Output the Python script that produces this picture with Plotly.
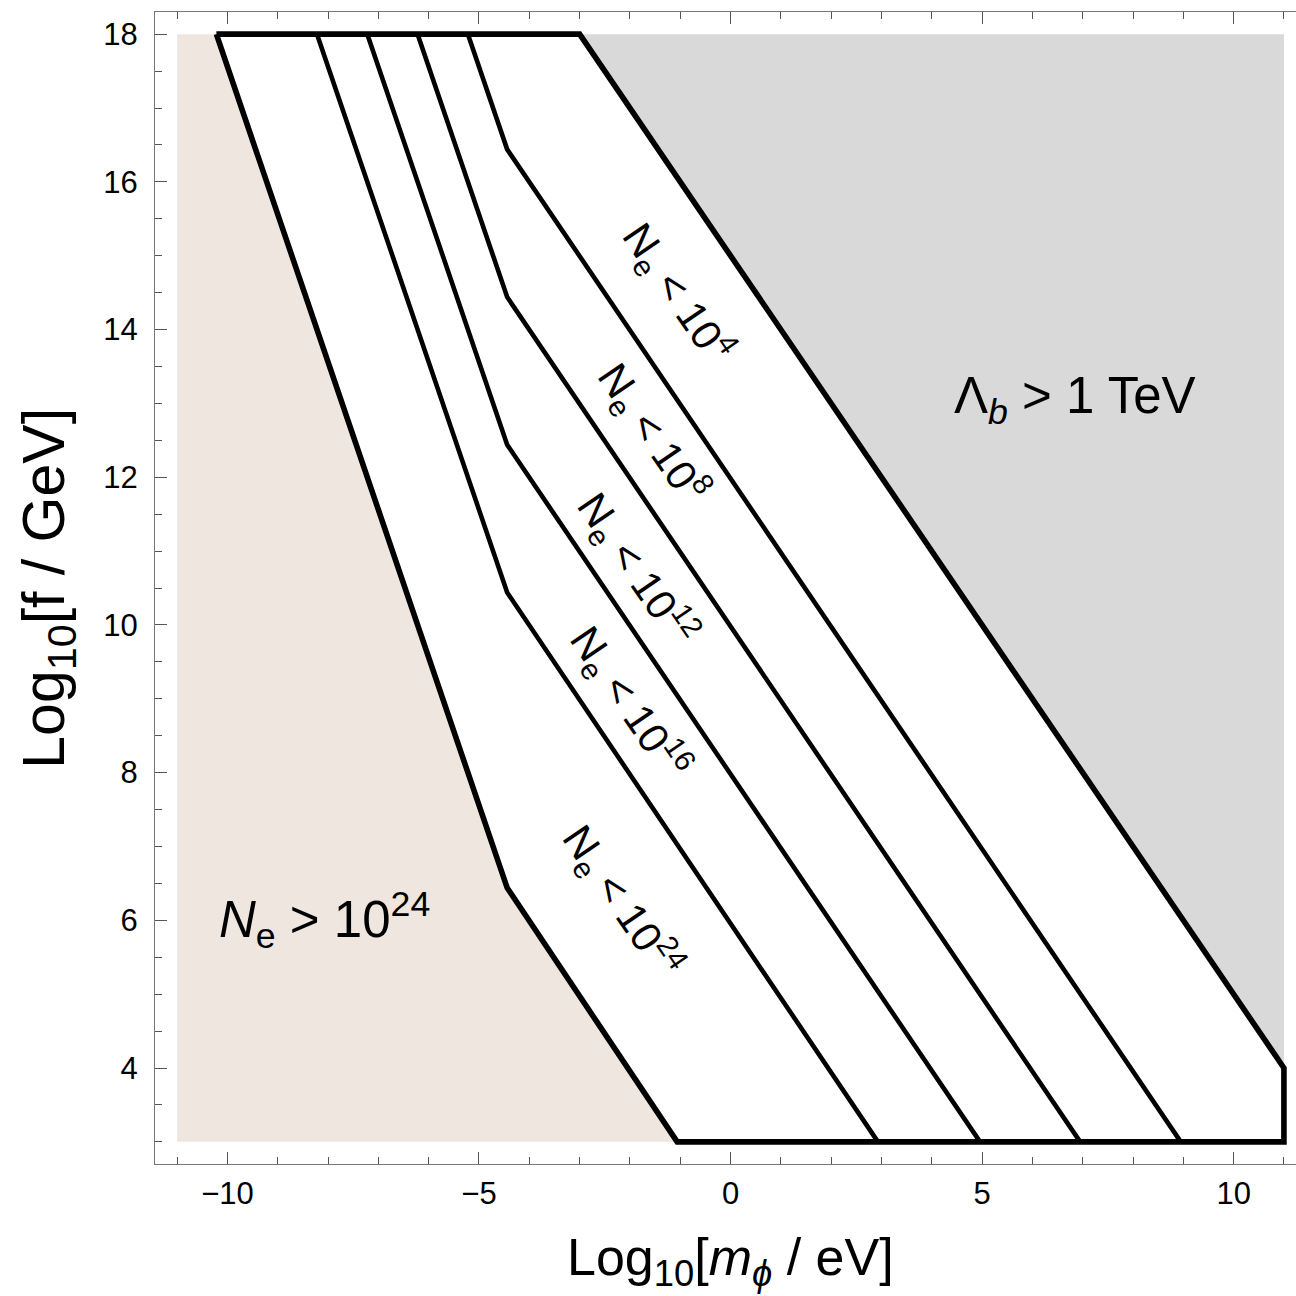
import plotly.graph_objects as go

# ---- data (x = Log10[m/eV], y = Log10[f/GeV]) ----
region_m = [-11, 11]
region_f = [3, 18]

# left boundary (N_e = 10^24)
ne24_m = [-10.22, -4.44, -1.06]
ne24_f = [18, 6.44, 3]
# right boundary (Lambda_b = 1 TeV)
lam_m = [-3, 11, 11]
lam_f = [18, 4, 3]

# inner contours
ne16_m = [-8.22, -4.44, 2.93]
ne16_f = [18, 10.44, 3]
ne12_m = [-7.22, -4.44, 4.96]
ne12_f = [18, 12.44, 3]
ne8_m = [-6.22, -4.44, 6.95]
ne8_f = [18, 14.44, 3]
ne4_m = [-5.22, -4.44, 8.95]
ne4_f = [18, 16.44, 3]

# rotated labels: text exponent, position
lab_exp = ["4", "8", "12", "16", "24"]
lab_m = [-1.05, -1.55, -1.85, -2.0, -2.15]
lab_f = [14.5, 12.6, 10.75, 8.95, 6.25]

FONT = "Liberation Sans, Arial, sans-serif"
BEIGE = "rgb(239,230,224)"
GRAY = "rgb(217,217,217)"

fig = go.Figure()

# beige excluded region (left)
fig.add_trace(go.Scatter(
    x=[region_m[0], region_m[0]] + ne24_m,
    y=[region_f[0], region_f[1]] + ne24_f,
    fill="toself", fillcolor=BEIGE, line=dict(width=0), mode="lines",
    hoverinfo="skip", showlegend=False))

# gray excluded region (right)
fig.add_trace(go.Scatter(
    x=[lam_m[0], region_m[1], lam_m[1]],
    y=[region_f[1], region_f[1], lam_f[1]],
    fill="toself", fillcolor=GRAY, line=dict(width=0), mode="lines",
    hoverinfo="skip", showlegend=False))

# inner contour lines
for mm, ff in [(ne16_m, ne16_f), (ne12_m, ne12_f), (ne8_m, ne8_f), (ne4_m, ne4_f)]:
    fig.add_trace(go.Scatter(x=mm, y=ff, mode="lines",
                             line=dict(color="black", width=4.6),
                             hoverinfo="skip", showlegend=False))

# outer boundary of allowed region
out_m = [ne24_m[0]] + lam_m + ne24_m[::-1]
out_f = [ne24_f[0]] + lam_f + ne24_f[::-1]
fig.add_trace(go.Scatter(x=out_m, y=out_f, mode="lines",
                         line=dict(color="black", width=5.6),
                         hoverinfo="skip", showlegend=False))

annotations = []
for e, mx, fy in zip(lab_exp, lab_m, lab_f):
    annotations.append(dict(
        x=mx, y=fy, xref="x", yref="y", showarrow=False,
        text=f"N<sub>e</sub> &lt; 10<sup>{e}</sup>", textangle=55.7,
        font=dict(family=FONT, size=42, color="black")))

annotations.append(dict(
    x=6.85, y=13.05, xref="x", yref="y", showarrow=False,
    text="Λ<sub><i>b</i></sub> &gt; 1 TeV",
    font=dict(family=FONT, size=51, color="black")))
annotations.append(dict(
    x=-8.08, y=6.0, xref="x", yref="y", showarrow=False,
    text="<i>N</i><sub>e</sub> &gt; 10<sup>24</sup>",
    font=dict(family=FONT, size=51, color="black")))

# axis titles
annotations.append(dict(
    x=0.504, y=-0.0845, xref="paper", yref="paper", showarrow=False,
    xanchor="center", yanchor="middle",
    text="Log<sub>10</sub>[<i>m<sub>ϕ</sub></i> / eV]",
    font=dict(family=FONT, size=52, color="black")))
annotations.append(dict(
    x=-0.094, y=0.5, xref="paper", yref="paper", showarrow=False,
    xanchor="center", yanchor="middle", textangle=-90,
    text="Log<sub>10</sub>[f / GeV]",
    font=dict(family=FONT, size=59, color="black")))

axis_common = dict(
    showgrid=False, zeroline=False, showline=True, linecolor="#777",
    linewidth=1.3, ticks="inside", ticklen=12, tickwidth=1.3,
    tickcolor="#555", tickfont=dict(family=FONT, size=31, color="black"))

fig.update_layout(
    width=1296, height=1296,
    margin=dict(l=155, r=0, t=12, b=132),
    plot_bgcolor="white", paper_bgcolor="white",
    annotations=annotations,
    xaxis=dict(range=[-11.44, 11.24], tick0=0, dtick=5, mirror="ticks",
               ticklabelstandoff=2,
               minor=dict(ticks="inside", dtick=1, tick0=0, ticklen=7,
                          tickcolor="#555", tickwidth=1.3),
               **axis_common),
    yaxis=dict(range=[2.7, 18.3], tick0=0, dtick=2, mirror=False,
               ticklabelstandoff=10,
               minor=dict(ticks="inside", dtick=0.5, tick0=0, ticklen=7,
                          tickcolor="#555", tickwidth=1.3),
               **axis_common),
)

fig.write_html("out.html")
